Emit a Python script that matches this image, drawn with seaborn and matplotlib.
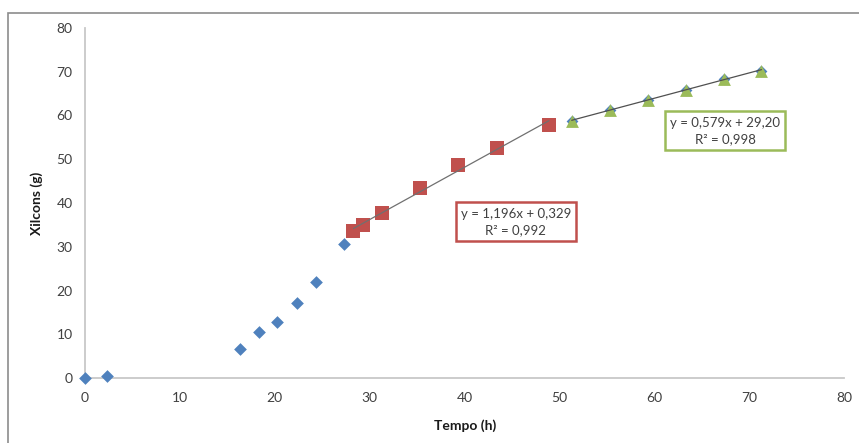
import numpy as np
import pandas as pd
import matplotlib
matplotlib.use("Agg")
import matplotlib.pyplot as plt
from matplotlib.patches import Rectangle
import seaborn as sns

# Measured xylitol-consumption data (time in h, mass in g)
tempo_fase1 = [0.0, 2.3, 16.3, 18.3, 20.2, 22.3, 24.3, 27.3]
xilcons_fase1 = [0.0, 0.5, 6.6, 10.6, 12.7, 17.1, 22.0, 30.6]

tempo_fase2 = [28.3, 29.3, 31.3, 35.3, 39.3, 43.4, 48.9]
xilcons_fase2 = [33.7, 34.9, 37.8, 43.4, 48.6, 52.6, 57.8]

tempo_fase3 = [51.3, 55.3, 59.3, 63.3, 67.3, 71.3]
xilcons_fase3 = [58.8, 61.3, 63.6, 65.8, 68.3, 70.2]

# Linear trend lines (slope, intercept, R²) for the two later phases
slopes = [1.196, 0.579]
intercepts = [0.329, 29.20]
r2_values = [0.992, 0.998]

x_ticks = [0, 10, 20, 30, 40, 50, 60, 70, 80]
y_ticks = [0, 10, 20, 30, 40, 50, 60, 70, 80]

BLUE = "#4F81BD"
RED = "#C0504D"
GREEN = "#9BBB59"
TEXT = "#404040"

sns.set_theme(style="white")
plt.rcParams["font.family"] = ["Lato", "DejaVu Sans"]

fig = plt.figure(figsize=(8.59, 4.43), dpi=100)
ax = fig.add_axes([85 / 859, 1 - 378 / 443, (844 - 85) / 859, (378 - 28) / 443])

# Chart-area frame
fig.patches.append(Rectangle((8 / 859, -0.05), 1.2, 1 - 13 / 443 + 0.05,
                             transform=fig.transFigure, fill=False,
                             edgecolor="#8C8C8C", linewidth=1.2, zorder=0))

df1 = pd.DataFrame({"t": tempo_fase1, "x": xilcons_fase1})
df2 = pd.DataFrame({"t": tempo_fase2, "x": xilcons_fase2})
df3 = pd.DataFrame({"t": tempo_fase3, "x": xilcons_fase3})

def fit_line(ts, k):
    t = np.array([min(ts), max(ts)])
    return pd.DataFrame({"t": t, "x": slopes[k] * t + intercepts[k]})

# Phase 1 diamonds, also drawn under the phase 3 points
sns.scatterplot(data=df1, x="t", y="x", marker="D", s=42, color=BLUE,
                edgecolor=BLUE, linewidth=0, ax=ax, zorder=3, clip_on=False)
sns.scatterplot(data=df3, x="t", y="x", marker="D", s=36, color=BLUE,
                edgecolor=BLUE, linewidth=0, ax=ax, zorder=3)
sns.scatterplot(data=df2, x="t", y="x", marker="s", s=95, color=RED,
                edgecolor=RED, linewidth=0, ax=ax, zorder=3)
sns.scatterplot(data=df3, x="t", y="x", marker="^", s=85, color=GREEN,
                edgecolor=GREEN, linewidth=0, ax=ax, zorder=4)

sns.lineplot(data=fit_line(tempo_fase2, 0), x="t", y="x", color="#707070",
             linewidth=0.9, ax=ax, zorder=5)
sns.lineplot(data=fit_line(tempo_fase3, 1), x="t", y="x", color="#505050",
             linewidth=0.9, ax=ax, zorder=5)

ax.set_xlim(0, 80)
ax.set_ylim(0, 80)
ax.set_xticks(x_ticks)
ax.set_yticks(y_ticks)
ax.tick_params(axis="both", length=0, labelsize=10, colors=TEXT)
ax.tick_params(axis="y", pad=9)
ax.tick_params(axis="x", pad=10)
for s in ["top", "right"]:
    ax.spines[s].set_visible(False)
for s in ["left", "bottom"]:
    ax.spines[s].set_color("#C8C8C8")
    ax.spines[s].set_linewidth(1.3)
    ax.spines[s].set_zorder(1)
ax.set_xlabel("")
ax.set_ylabel("")

fig.text(465 / 859, 1 - 426 / 443, "Tempo (h)", ha="center", va="center",
         fontsize=10, fontweight="bold", color="#1a1a1a")
fig.text(37 / 859, 1 - 203 / 443, "Xilcons (g)", ha="center", va="center",
         rotation=90, fontsize=10, fontweight="bold", color="#1a1a1a")

def fmt(v, d):
    return f"{v:.{d}f}".replace(".", ",")

# Equation boxes
boxes = [
    (0, RED, (39.1, 31.3, 12.65, 8.9), 45.4, (37.5, 33.8), 3),
    (1, GREEN, (61.1, 52.1, 12.65, 8.9), 67.5, (58.3, 54.6), 2),
]
for k, col, rect, xc, (y1, y2), dint in boxes:
    ax.add_patch(Rectangle(rect[:2], rect[2], rect[3], fill=True,
                           facecolor="white", edgecolor=col, linewidth=1.8,
                           zorder=6, clip_on=False))
    ax.text(xc, y1, f"y = {fmt(slopes[k], 3)}x + {fmt(intercepts[k], dint)}",
            ha="center", va="center", fontsize=9.5, color=TEXT, zorder=7)
    ax.text(xc, y2, f"R² = {fmt(r2_values[k], 3)}",
            ha="center", va="center", fontsize=9.5, color=TEXT, zorder=7)

fig.savefig("out.png", dpi=100)
